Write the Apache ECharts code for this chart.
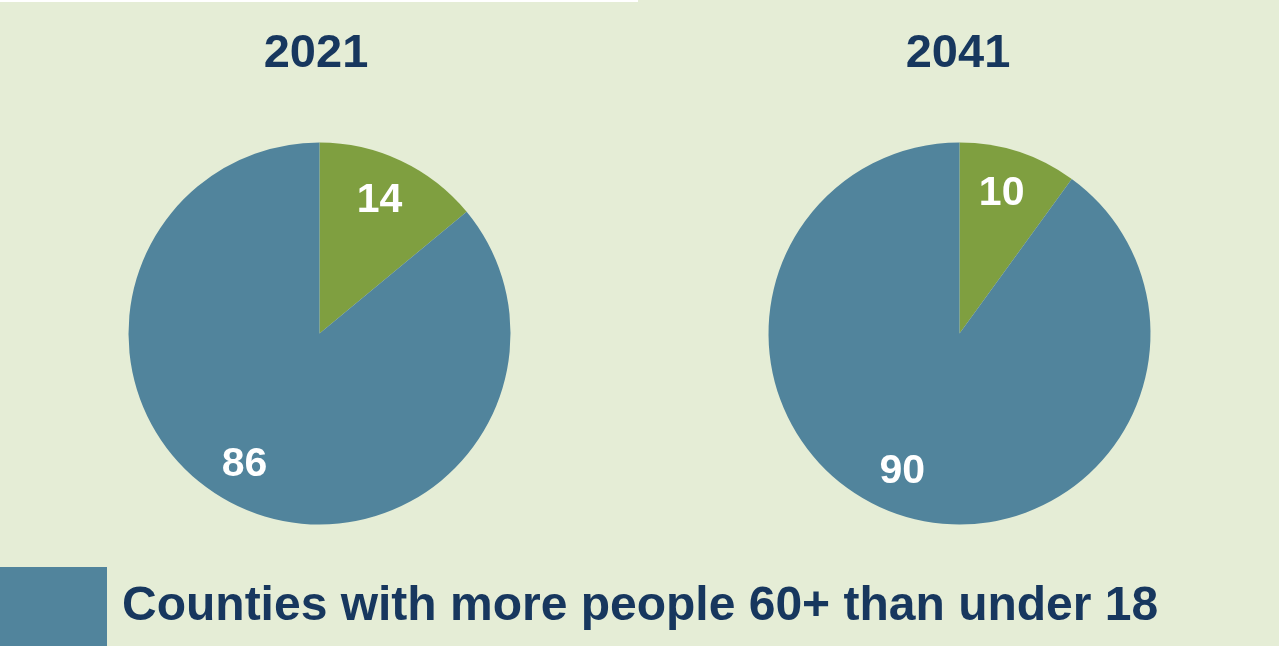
<!DOCTYPE html>
<html>
<head>
<meta charset="utf-8">
<script src="https://cdn.jsdelivr.net/npm/echarts@6/dist/echarts.min.js"></script>
<style>
html,body{margin:0;padding:0;background:#e5edd6;}
#chart{width:1279px;height:646px;}
</style>
</head>
<body>
<div id="chart"></div>
<script>
var years = ['2021', '2041'];
var sliceNames = ['Other counties', 'Counties with more people 60+ than under 18'];
var values2021 = [14, 86];
var values2041 = [10, 90];
var legendNames = ['Counties with more people 60+ than under 18'];

var BG = '#e5edd6';
var NAVY = '#17375e';
var GREEN = '#7f9f40';
var BLUE = '#51849c';
var FONT = '"Liberation Sans", Arial, sans-serif';

var centers = [[319.5, 333.5], [959.5, 333.5]];
var R = 191;
var labelR = 148;
var labelNudge = [[-5, 5], [-10, -7]];

function pieSeries(idx, values) {
  return {
    type: 'pie',
    name: years[idx],
    center: centers[idx],
    radius: [0, R],
    startAngle: 90,
    clockwise: true,
    silent: true,
    animation: false,
    data: values.map(function (v, i) {
      return { name: sliceNames[i], value: v, itemStyle: { color: i === 0 ? GREEN : BLUE } };
    }),
    itemStyle: { borderWidth: 0 },
    label: {
      show: true,
      position: 'inside',
      formatter: '{c}',
      color: '#ffffff',
      fontFamily: FONT,
      fontWeight: 'bold',
      fontSize: 41
    },
    labelLine: { show: false },
    labelLayout: function (p) {
      var c = centers[idx];
      var lx = p.labelRect.x + p.labelRect.width / 2;
      var ly = p.labelRect.y + p.labelRect.height / 2;
      var k = labelR / (R / 2) - 1;
      var n = labelNudge[p.dataIndex] || [0, 0];
      return { dx: (lx - c[0]) * k + n[0], dy: (ly - c[1]) * k + n[1] };
    }
  };
}

var chart = echarts.init(document.getElementById('chart'));
chart.setOption({
  backgroundColor: BG,
  animation: false,
  title: years.map(function (y, i) {
    return {
      text: y,
      left: i === 0 ? 311 : 953,
      top: 26,
      textAlign: 'center',
      textStyle: { color: NAVY, fontFamily: FONT, fontWeight: 'bold', fontSize: 47 }
    };
  }),
  legend: {
    data: legendNames,
    left: 0,
    top: 567,
    padding: 0,
    itemWidth: 107,
    itemHeight: 80,
    icon: 'rect',
    selectedMode: false,
    textStyle: {
      color: NAVY,
      fontFamily: FONT,
      fontWeight: 'bold',
      fontSize: 48,
      padding: [2, 0, 0, 10]
    }
  },
  graphic: [{
    type: 'rect',
    silent: true,
    shape: { x: 0, y: 0, width: 638, height: 2 },
    style: { fill: '#ffffff' }
  }],
  series: [pieSeries(0, values2021), pieSeries(1, values2041)]
});
</script>
</body>
</html>
